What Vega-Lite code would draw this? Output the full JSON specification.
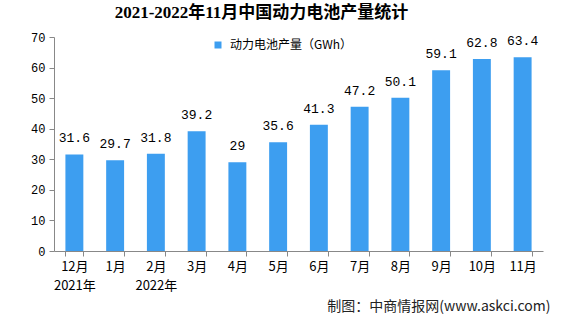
{
  "$schema": "https://vega.github.io/schema/vega-lite/v6.json",
  "autosize": {"type": "none"},
  "padding": {"left": 54, "top": 37, "right": 35, "bottom": 76},
  "width": 489,
  "height": 214,
  "background": "white",
  "title": {
    "text": "2021-2022年11月中国动力电池产量统计",
    "font": "Liberation Serif, Noto Sans CJK SC",
    "fontSize": 17,
    "fontWeight": "bold",
    "color": "#000000",
    "anchor": "middle",
    "dx": -37,
    "offset": 9
  },
  "config": {
    "view": {"stroke": null},
    "axis": {"grid": false}
  },
  "data": {
    "values": [
      {"month": "12月", "value": 31.6},
      {"month": "1月", "value": 29.7},
      {"month": "2月", "value": 31.8},
      {"month": "3月", "value": 39.2},
      {"month": "4月", "value": 29},
      {"month": "5月", "value": 35.6},
      {"month": "6月", "value": 41.3},
      {"month": "7月", "value": 47.2},
      {"month": "8月", "value": 50.1},
      {"month": "9月", "value": 59.1},
      {"month": "10月", "value": 62.8},
      {"month": "11月", "value": 63.4}
    ]
  },
  "encoding": {
    "x": {
      "field": "month",
      "type": "nominal",
      "sort": null,
      "scale": {"paddingInner": 0.56, "paddingOuter": 0.28},
      "axis": {
        "title": "制图：中商情报网(www.askci.com)",
        "titleFont": "Noto Sans CJK SC",
        "titleFontSize": 14,
        "titleFontWeight": "normal",
        "titleColor": "#222222",
        "titleAlign": "right",
        "titleBaseline": "middle",
        "titleX": 496,
        "titleY": 55,
        "labelAngle": 0,
        "labelFont": "Noto Sans CJK SC",
        "labelFontSize": 13,
        "labelColor": "#000000",
        "labelPadding": 4,
        "labelLineHeight": 19,
        "labelExpr": "datum.value == '12月' ? ['12月', '2021年'] : datum.value == '2月' ? ['2月', '2022年'] : datum.value",
        "tickBand": "extent",
        "tickSize": 5,
        "tickColor": "#888888",
        "domainColor": "#888888"
      }
    },
    "y": {
      "field": "value",
      "type": "quantitative",
      "scale": {"domain": [0, 70]},
      "axis": {
        "title": null,
        "values": [0, 10, 20, 30, 40, 50, 60, 70],
        "labelFont": "Liberation Mono",
        "labelFontSize": 12,
        "labelColor": "#000000",
        "labelPadding": 4,
        "tickSize": 5,
        "tickColor": "#888888",
        "domainColor": "#888888"
      }
    }
  },
  "layer": [
    {
      "mark": {"type": "bar", "color": "#3d9ef0"},
      "encoding": {
        "color": {
          "datum": "动力电池产量（GWh）",
          "type": "nominal",
          "scale": {"range": ["#3d9ef0"]},
          "legend": {
            "title": null,
            "orient": "none",
            "legendX": 158,
            "legendY": 2,
            "padding": 0,
            "symbolType": "square",
            "symbolSize": 49,
            "symbolStrokeWidth": 0,
            "labelFont": "Noto Sans CJK SC",
            "labelFontSize": 12,
            "labelColor": "#000000",
            "labelOffset": 6
          }
        }
      }
    },
    {
      "mark": {
        "type": "text",
        "baseline": "alphabetic",
        "dy": -12,
        "font": "Liberation Mono",
        "fontSize": 13,
        "color": "#000000"
      },
      "encoding": {
        "text": {"field": "value", "type": "quantitative"}
      }
    }
  ]
}
